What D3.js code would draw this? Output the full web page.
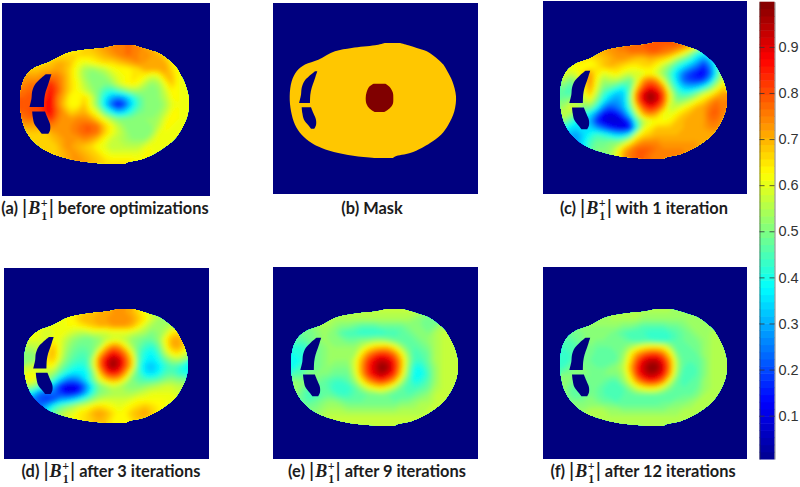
<!DOCTYPE html>
<html>
<head>
<meta charset="utf-8">
<script src="https://cdnjs.cloudflare.com/ajax/libs/d3/7.8.5/d3.min.js"></script>
<style>
body { margin: 0; background: #fff; }
svg { display: block; }
.cap { font: bold 16.4px Lato, sans-serif; fill: #1c1c1c; }
.cap .b { font: italic bold 18px "Liberation Serif", serif; }
.cap .s { font: bold 12px "Liberation Serif", serif; }
.cap .v { font: 20px "Liberation Sans", sans-serif; }
.cbar text { font: 14.5px "Liberation Sans", sans-serif; fill: #333; }
</style>
</head>
<body>
<svg width="800" height="487"></svg>
<script>
// values, in percent of full scale, 25 columns x 17 rows over the head
var fieldA = [
[62,62,62,62,62,62,62,62,64,66,68,70,72,74,75,76,76,75,72,70,66,64,62,62,62],
[64,64,64,64,64,65,66,67,66,66,66,68,70,72,74,76,76,74,72,72,70,66,64,62,62],
[66,66,66,66,68,70,70,68,62,60,62,64,66,66,68,70,72,74,72,70,72,70,64,62,62],
[68,68,68,70,70,72,70,66,60,54,52,54,56,60,62,62,64,66,70,70,70,72,66,62,60],
[72,72,72,74,76,76,72,66,60,54,50,50,52,56,60,62,64,64,62,58,60,68,68,62,60],
[74,76,76,78,84,78,72,66,62,56,52,50,50,52,58,62,64,62,56,52,54,62,68,62,60],
[76,78,76,80,86,80,72,66,62,58,54,50,44,42,46,50,54,54,52,50,52,58,64,62,60],
[78,78,78,82,88,76,70,62,62,66,60,50,38,30,26,30,38,46,50,50,52,56,62,62,60],
[78,80,80,84,88,76,68,62,62,68,60,50,36,22,12,20,34,44,50,50,50,54,60,62,60],
[78,80,80,84,88,78,72,66,68,70,64,58,46,38,30,34,42,48,50,50,52,56,62,62,60],
[76,78,74,76,84,76,72,72,74,74,72,66,60,54,50,50,50,52,52,52,54,60,64,62,60],
[72,72,72,72,76,74,72,74,76,78,78,76,68,62,56,52,50,50,50,52,56,62,62,60,60],
[68,68,68,66,70,72,72,74,76,78,78,76,68,62,58,54,50,50,50,52,60,62,60,60,60],
[66,66,66,66,68,70,72,72,72,74,72,68,62,58,56,54,52,52,52,58,62,60,60,60,60],
[66,66,66,66,66,68,72,72,70,68,66,62,60,56,56,56,56,56,60,62,60,60,60,60,60],
[66,66,66,66,66,68,70,72,72,70,68,66,62,60,60,60,60,60,62,62,60,60,60,60,60],
[66,66,66,66,66,68,70,72,72,72,70,68,66,64,64,64,64,62,62,60,60,60,60,60,60]
];
var fieldC = [
[72,72,72,72,72,72,72,72,74,76,76,76,78,78,78,78,78,78,76,72,66,60,60,60,60],
[70,70,70,70,70,70,70,72,74,74,76,76,76,78,78,76,74,70,64,56,44,40,50,56,60],
[66,66,66,66,64,66,68,70,72,72,70,68,68,70,68,66,62,54,48,42,34,26,34,44,58],
[62,62,62,62,62,64,68,70,68,66,64,64,66,66,62,56,50,42,36,30,24,16,26,42,58],
[60,58,60,66,72,64,60,62,64,60,58,58,60,62,58,52,44,34,24,18,14,12,22,40,58],
[56,50,54,66,74,62,54,56,56,52,48,58,72,76,72,58,46,34,22,18,16,18,30,48,60],
[50,44,52,64,72,60,50,48,44,40,46,66,80,86,82,72,52,40,32,30,32,38,48,58,66],
[46,44,50,60,68,56,44,38,32,32,50,76,90,97,92,80,60,46,42,44,50,58,62,68,72],
[50,52,54,56,60,50,38,30,28,32,50,76,90,97,92,80,60,50,52,56,62,66,72,76,74],
[54,60,58,50,50,40,26,20,24,30,46,66,80,86,82,72,56,58,62,66,70,72,76,78,74],
[58,54,50,42,36,24,12,10,12,22,36,56,70,74,70,60,60,64,68,70,70,72,78,78,74],
[52,44,38,34,30,16,10,8,8,10,20,44,56,60,62,62,64,68,70,70,70,72,76,76,72],
[40,36,34,36,34,28,22,16,12,10,14,40,60,64,68,68,68,68,70,70,70,72,74,74,70],
[34,30,28,34,40,44,42,38,34,34,42,60,66,68,70,70,70,70,70,70,70,70,70,70,68],
[30,28,28,36,44,48,48,50,50,54,62,70,74,74,74,72,72,72,72,72,72,70,70,68,66],
[30,30,30,36,46,50,50,52,58,68,74,78,78,78,76,74,74,74,74,72,72,70,68,66,66],
[30,30,30,36,46,50,50,54,62,72,76,78,78,76,74,74,74,74,74,72,70,70,68,66,66]
];
var fieldD = [
[60,60,60,60,60,60,60,62,66,68,68,70,70,72,72,72,70,66,62,58,56,56,56,56,56],
[60,60,60,60,60,60,62,64,68,70,70,72,72,74,74,74,72,68,64,58,54,52,52,54,56],
[60,60,60,60,60,60,62,62,64,66,68,70,70,72,72,72,70,64,58,54,52,54,56,58,58],
[60,60,60,58,60,60,60,58,56,56,58,58,58,60,60,60,58,56,54,50,52,56,64,66,62],
[60,60,60,58,62,60,56,52,50,48,50,52,56,58,58,56,52,50,48,48,52,62,70,72,66],
[56,56,56,62,68,60,54,50,48,48,50,54,66,74,72,62,54,48,44,42,48,60,70,72,66],
[52,52,58,66,70,60,52,48,46,46,50,66,78,86,82,74,60,46,40,38,44,56,64,66,60],
[50,50,56,66,68,58,50,46,44,44,56,76,88,96,92,80,66,46,38,36,40,48,54,56,52],
[56,58,60,62,62,52,46,42,40,42,56,76,90,98,92,80,66,44,34,32,36,42,46,44,38],
[60,62,56,56,54,46,40,36,36,38,50,68,82,88,84,72,56,44,36,34,38,44,46,42,40],
[62,62,56,52,44,34,26,24,28,36,48,60,68,72,70,60,50,46,44,44,46,50,52,50,50],
[56,52,44,40,30,16,10,10,14,26,40,50,54,58,56,52,50,50,52,54,56,58,58,56,56],
[40,34,24,22,24,18,12,12,18,30,42,50,52,54,54,54,54,56,58,60,60,60,60,58,58],
[30,24,20,18,20,28,30,34,40,46,52,56,58,58,58,58,60,62,62,62,62,62,60,60,60],
[30,24,24,30,40,46,50,54,58,60,64,66,64,62,60,62,64,66,68,66,64,62,60,60,60],
[30,28,32,40,48,54,58,60,64,66,70,72,70,66,62,64,68,70,72,68,64,62,60,60,60],
[30,28,32,40,48,54,60,62,64,66,68,70,68,64,62,62,66,68,68,66,62,60,60,60,60]
];
var fieldE = [
[54,54,54,54,54,54,54,56,56,56,56,56,56,56,56,56,56,56,56,54,52,50,50,52,54],
[54,54,54,54,54,54,54,54,54,54,54,54,54,54,54,54,54,54,52,50,48,48,50,54,56],
[50,50,50,52,54,54,52,50,50,48,46,46,46,48,48,48,48,50,50,50,48,50,54,56,56],
[48,48,48,50,52,52,50,46,44,44,42,42,42,42,44,44,46,48,50,50,50,54,56,56,56],
[46,46,48,50,52,52,50,50,48,48,50,50,52,52,50,48,46,46,48,50,52,54,56,56,56],
[42,42,44,48,50,52,52,52,52,52,56,62,66,68,68,62,54,48,46,48,50,54,56,56,56],
[40,40,44,48,50,52,52,52,52,54,64,74,80,84,82,76,64,52,44,46,48,54,56,56,56],
[38,40,46,48,50,52,52,52,52,58,70,82,90,94,92,84,70,54,44,44,48,54,56,56,56],
[40,44,48,48,50,52,50,50,50,58,72,84,92,99,96,86,70,52,40,40,46,52,56,56,56],
[46,46,50,50,50,50,48,48,48,56,70,82,90,94,90,82,66,50,38,38,44,52,56,56,56],
[52,50,50,50,48,46,44,44,46,52,62,72,78,82,78,70,56,46,40,42,46,52,56,56,56],
[54,50,46,46,46,46,42,42,42,46,52,58,62,64,60,54,48,44,44,46,48,54,56,56,56],
[52,48,44,44,46,48,46,44,44,46,46,48,48,50,48,46,46,46,48,50,52,56,56,56,56],
[50,48,46,48,50,52,52,50,48,48,48,48,48,48,48,48,50,50,52,54,54,56,56,56,56],
[50,50,50,50,52,54,54,54,52,52,52,52,52,52,52,52,54,54,54,54,56,56,56,56,56],
[50,50,50,52,54,56,56,56,56,56,56,56,56,56,56,56,56,56,56,56,56,56,56,56,56],
[50,50,50,52,54,56,56,56,56,56,56,56,56,56,56,56,56,56,56,56,56,56,56,56,56]
];
var fieldF = [
[52,52,52,52,52,52,52,54,54,54,54,54,54,54,54,54,54,52,52,52,52,52,52,52,52],
[52,52,52,52,52,52,52,54,54,54,54,54,52,52,52,52,52,52,52,52,52,52,52,52,52],
[50,50,52,52,52,52,52,52,52,50,50,48,46,46,46,46,48,48,50,52,52,52,52,54,54],
[48,48,48,50,50,50,50,50,48,46,44,44,44,42,42,42,44,46,48,50,52,52,54,54,54],
[46,46,48,50,50,50,50,48,48,48,46,44,44,44,42,42,44,46,48,48,50,52,54,54,54],
[44,44,46,48,50,48,48,48,48,50,54,58,62,64,64,62,54,46,46,48,48,52,54,54,54],
[42,44,46,48,50,46,46,46,48,52,62,72,78,82,82,76,64,50,46,46,48,52,54,54,54],
[42,44,48,50,48,46,46,46,48,54,66,80,90,94,94,86,72,54,46,46,46,50,54,54,54],
[44,48,50,50,48,48,48,50,52,56,70,84,93,99,98,90,74,54,46,44,46,50,54,54,54],
[50,50,50,50,50,50,50,50,50,54,66,82,91,95,93,86,70,52,44,44,46,50,54,54,54],
[52,50,48,48,48,48,48,46,46,52,60,72,80,84,82,74,58,48,44,46,46,52,54,54,54],
[52,48,46,46,48,48,46,44,44,46,52,58,62,64,62,56,50,46,46,46,48,52,54,54,54],
[52,48,46,48,50,48,46,44,44,46,46,48,48,48,48,46,46,46,48,48,50,54,54,54,54],
[52,50,50,50,50,50,48,48,46,46,46,46,46,46,46,48,48,50,50,52,54,54,54,54,54],
[52,52,52,52,54,54,54,52,52,50,50,50,50,50,50,50,52,52,54,54,54,54,54,54,54],
[52,52,54,54,54,54,54,54,54,54,54,54,54,54,54,54,54,54,54,54,54,54,54,54,54],
[52,52,54,54,54,54,54,54,54,54,54,54,54,54,54,54,54,54,54,54,54,54,54,54,54]
];

// mask panel (b): one level for the head, one for the target region
var maskHeadValue = 0.68, maskCoreValue = 0.998;

// outlines, percent of the head box: row, left edge, right edge
var headRows  = [0, 2, 4.3, 7.2, 14.5, 18.8, 24.6, 33.3, 46.4, 59.4, 71, 79.7, 87, 91.3, 95.7, 98.6, 100];
var headLeft  = [57.3, 51.3, 37.3, 27.2, 17.2, 9.2, 4.2, 1.2, 0, 0.8, 3.2, 7.2, 13.2, 19.2, 29.2, 41.2, 52];
var headRight = [66.3, 71.3, 76.4, 82.4, 89.4, 92.4, 94.8, 97.8, 100, 99, 95.4, 91, 84.4, 79.4, 72.4, 63.4, 62];
var upperHoleRows  = [24.6, 29, 33.3, 39.1, 44.9, 52.2];
var upperHoleLeft  = [15.2, 11.6, 8.8, 7.2, 6.8, 5.6];
var upperHoleRight = [16.6, 15.6, 14.6, 13.2, 12.4, 12.2];
var lowerHoleRows  = [55.9, 60.9, 66.7, 71.6, 74.5];
var lowerHoleLeft  = [7.2, 7.6, 8.6, 11.2, 12.8];
var lowerHoleRight = [12.8, 14.2, 15.8, 15.8, 14.8];
var coreRows  = [35.4, 38, 43, 48, 53, 57, 60];
var coreLeft  = [50.5, 47.8, 46.2, 45.7, 46.2, 48, 51];
var coreRight = [57.5, 60, 62, 62.3, 62, 60, 57];

var barTicks = [0.1, 0.2, 0.3, 0.4, 0.5, 0.6, 0.7, 0.8, 0.9];
var barSteps = d3.range(64);

var panels = [
    {id: "a", field: fieldA, holeGrow: 2, box: [2, 3, 210, 196], head: [20, 45, 189, 164], pre: "(a) ", post: " before optimizations", cx: 105, cy: 214},
    {id: "b", field: null, holeGrow: 0, box: [273, 3, 478, 194], head: [289.7, 43, 456, 158], pre: "(b) Mask", post: null, cx: 372, cy: 214},
    {id: "c", field: fieldC, holeGrow: 1.5, box: [543, 1, 747, 194], head: [560, 42, 727, 159], pre: "(c) ", post: " with 1 iteration", cx: 644, cy: 214},
    {id: "d", field: fieldD, holeGrow: 1.5, box: [4, 268, 209, 459], head: [24, 309, 188, 423], pre: "(d) ", post: " after 3 iterations", cx: 111, cy: 477},
    {id: "e", field: fieldE, holeGrow: 1.5, box: [273, 267, 478, 459], head: [291, 309, 458, 426], pre: "(e) ", post: " after 9 iterations", cx: 377, cy: 477},
    {id: "f", field: fieldF, holeGrow: 1.5, box: [543, 267, 747, 459], head: [560, 309, 727, 426], pre: "(f) ", post: " after 12 iterations", cx: 643, cy: 477}
];

var svg = d3.select("svg");

var soft = svg.append("defs").append("filter").attr("id", "soft")
    .attr("x", "-5%").attr("y", "-5%").attr("width", "110%").attr("height", "110%");
soft.append("feGaussianBlur").attr("stdDeviation", 2);

var vmin = 0.006, vmax = 0.998;
// jet colormap
var jet = d3.scaleLinear()
    .domain([0, 0.125, 0.375, 0.625, 0.875, 1].map(function(f){ return vmin + f * (vmax - vmin); }))
    .range(["#00008f", "#0000ff", "#00ffff", "#ffff00", "#ff0000", "#800000"])
    .clamp(true);

var background = "#00007f";
var nx = 25, ny = 17;
var contours = d3.contours().size([nx, ny]).thresholds(d3.range(0, 100, 2));

panels.forEach(function(p){
    var g = svg.append("g").attr("class", "panel");

    g.append("rect")
        .attr("x", p.box[0]).attr("y", p.box[1])
        .attr("width", p.box[2] - p.box[0]).attr("height", p.box[3] - p.box[1])
        .attr("fill", background);

    var x = d3.scaleLinear().domain([0, 100]).range([p.head[0], p.head[2]]);
    var y = d3.scaleLinear().domain([0, 100]).range([p.head[1], p.head[3]]);

    function outline(rows, left, right, grow){
        return d3.area()
            .y(function(d, i){ return y(rows[i]); })
            .x0(function(d, i){ return x(left[i]); })
            .x1(function(d, i){ return x(right[i] + grow); })
            .curve(d3.curveCatmullRom)(rows);
    }

    var headPath = outline(headRows, headLeft, headRight, 0);

    if (p.field) {
        g.append("clipPath").attr("id", "head-" + p.id)
            .append("path").attr("d", headPath);

        var gx = d3.scaleLinear().domain([0, nx]).range([p.head[0], p.head[2]]);
        var gy = d3.scaleLinear().domain([0, ny]).range([p.head[1], p.head[3]]);
        var path = d3.geoPath(d3.geoTransform({
            point: function(a, b){ this.stream.point(gx(a), gy(b)); }
        }));
        var bands = contours(p.field.flat());

        var clipped = g.append("g").attr("clip-path", "url(#head-" + p.id + ")");
        // sharp copy under the blurred one so the edges of the box stay filled
        [clipped.append("g"), clipped.append("g").attr("filter", "url(#soft)")].forEach(function(layer){
            layer.selectAll("path")
                .data(bands)
                .enter().append("path")
                .attr("d", path)
                .attr("fill", function(d){ return jet((d.value + 1) / 100); });
        });
    } else {
        g.append("path").attr("d", headPath).attr("fill", jet(maskHeadValue));
        g.append("path").attr("d", outline(coreRows, coreLeft, coreRight, 0)).attr("fill", jet(maskCoreValue));
    }

    g.append("path").attr("d", outline(upperHoleRows, upperHoleLeft, upperHoleRight, p.holeGrow)).attr("fill", background);
    g.append("path").attr("d", outline(lowerHoleRows, lowerHoleLeft, lowerHoleRight, p.holeGrow)).attr("fill", background);

    // caption
    var t = svg.append("text").attr("class", "cap")
        .attr("x", p.cx).attr("y", p.cy).attr("text-anchor", "middle");
    t.append("tspan").text(p.pre);
    if (p.post) {
        t.append("tspan").attr("class", "v").text("|");
        t.append("tspan").attr("class", "b").attr("dx", 1).text("B");
        t.append("tspan").attr("class", "s").attr("dy", 6).attr("dx", 1).text("1");
        t.append("tspan").attr("class", "s").attr("dy", -13).attr("dx", -6.5).text("+");
        t.append("tspan").attr("class", "v").attr("dy", 7).attr("dx", 1).text("|");
        t.append("tspan").text(p.post);
    }
});

// colorbar
var barTop = 1.7, barBottom = 459, barLeft = 759.5, barRight = 774.5;
var barY = d3.scaleLinear().domain([vmin, vmax]).range([barBottom, barTop]);
var stepY = d3.scaleBand().domain(barSteps).range([barBottom, barTop]);

var bar = svg.append("g").attr("class", "cbar");
bar.selectAll("rect")
    .data(barSteps)
    .enter().append("rect")
    .attr("x", barLeft)
    .attr("y", function(d){ return stepY(d); })
    .attr("width", barRight - barLeft)
    .attr("height", stepY.bandwidth() + 0.5)
    .attr("fill", function(d){ return jet(vmin + (d + 0.5) / 64 * (vmax - vmin)); });

bar.append("g")
    .attr("transform", "translate(" + barRight + ",0)")
    .call(d3.axisRight(barY).tickValues(barTicks).tickFormat(d3.format(".1f")).tickSize(-5).tickSizeOuter(0).tickPadding(4))
    .call(function(a){ a.select(".domain").attr("stroke", "#333").attr("stroke-width", 0.6); a.selectAll("line").attr("stroke", "#333").attr("stroke-width", 0.8); });

bar.append("g")
    .attr("transform", "translate(" + barLeft + ",0)")
    .call(d3.axisLeft(barY).tickValues(barTicks).tickFormat("").tickSize(-5).tickSizeOuter(0))
    .call(function(a){ a.select(".domain").attr("stroke", "#333").attr("stroke-width", 0.6); a.selectAll("line").attr("stroke", "#333").attr("stroke-width", 0.8); });
</script>
</body>
</html>
